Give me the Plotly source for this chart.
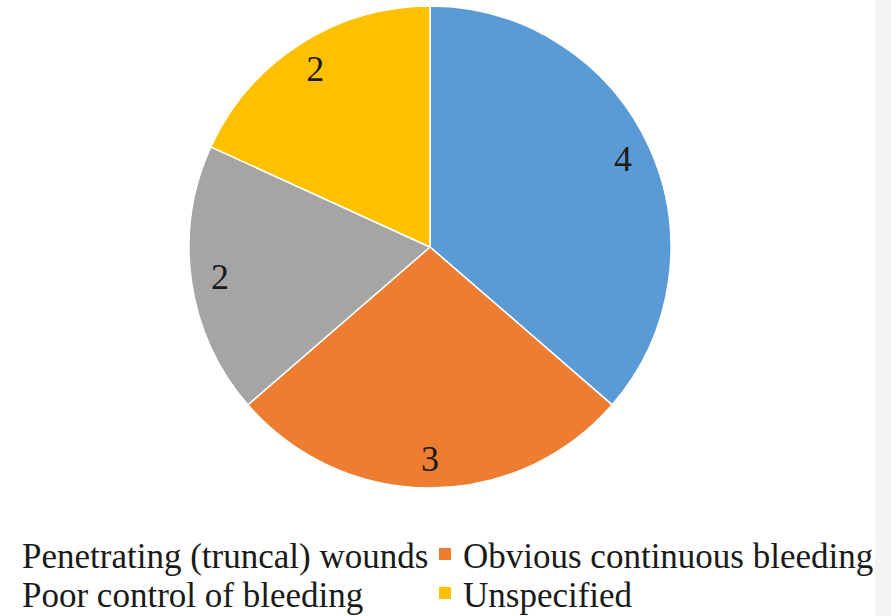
import plotly.graph_objects as go

categories = ["Penetrating (truncal) wounds", "Obvious continuous bleeding",
              "Poor control of bleeding", "Unspecified"]
values = [4, 3, 2, 2]
colors = ["#5B9BD5", "#ED7D31", "#A5A5A5", "#FFC000"]

W, H = 891, 616
cx, cy, R = 430, 247, 241
SERIF = "Times New Roman, Liberation Serif, DejaVu Serif, serif"

def px(x):
    return x / W

def py(y):
    return 1 - y / H

domain = dict(x=[px(cx - R), px(cx + R)], y=[py(cy + R), py(cy - R)])

fig = go.Figure()
fig.add_trace(go.Pie(
    labels=categories, values=values, sort=False, direction="clockwise",
    marker=dict(colors=colors, line=dict(color="white", width=1.5)),
    textinfo="none", hoverinfo="label+value", domain=domain, showlegend=False,
))
# transparent ring carrying the value labels near the rim
fig.add_trace(go.Pie(
    labels=categories, values=values, sort=False, direction="clockwise",
    hole=0.76,
    marker=dict(colors=["rgba(0,0,0,0)"] * len(values), line=dict(width=0)),
    textinfo="value", textposition="inside", insidetextorientation="horizontal",
    textfont=dict(family=SERIF, size=36, color="#1a1a1a"),
    hoverinfo="skip", domain=domain, showlegend=False,
))

shapes = [dict(type="rect", xref="paper", yref="paper", x0=px(875), x1=1, y0=0, y1=1,
               fillcolor="#f4f4f4", line=dict(width=0), layer="below")]
annotations = []
# manual legend (two columns, two rows); left column markers are cropped off
rows = [556, 595]
cols_text = [22, 463]
cols_mark = [-20, 439]
for i, name in enumerate(categories):
    r, c = i // 2, i % 2
    yc = rows[r]
    shapes.append(dict(type="rect", xref="paper", yref="paper",
                       x0=px(cols_mark[c]), x1=px(cols_mark[c] + 12),
                       y0=py(yc - 2 + 6), y1=py(yc - 2 - 6),
                       fillcolor=colors[i], line=dict(width=0)))
    annotations.append(dict(text=name, xref="paper", yref="paper",
                            x=px(cols_text[c] - 2), y=py(yc), xanchor="left", yanchor="middle",
                            showarrow=False,
                            font=dict(family=SERIF, size=35, color="#1a1a1a")))

fig.update_layout(
    width=W, height=H, margin=dict(l=0, r=0, t=0, b=0),
    paper_bgcolor="white", plot_bgcolor="white",
    shapes=shapes, annotations=annotations,
)
fig.write_html("out.html")
